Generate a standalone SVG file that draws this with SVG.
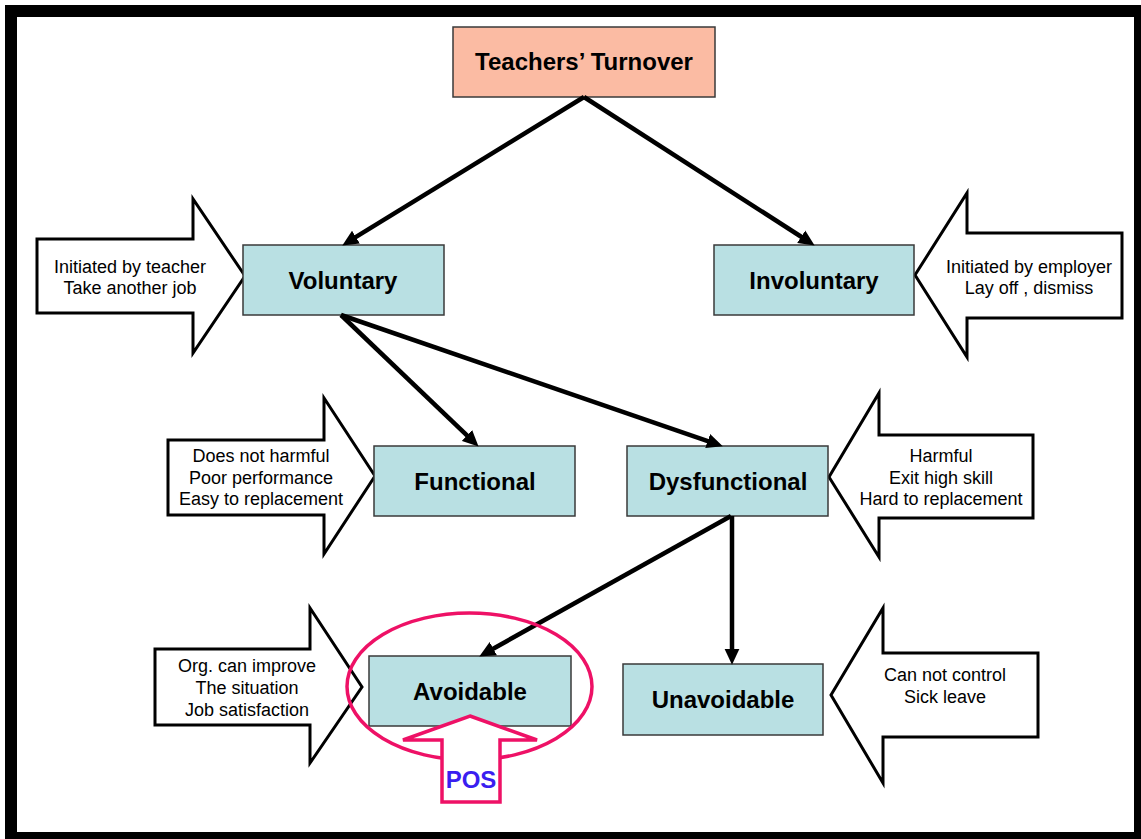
<svg xmlns="http://www.w3.org/2000/svg" width="1141" height="839" viewBox="0 0 1141 839">
<defs>
<marker id="ah" markerUnits="userSpaceOnUse" markerWidth="16" markerHeight="16" refX="3" refY="7" orient="auto" viewBox="0 0 15 14">
<path d="M0,0 L15,7 L0,14 z" fill="#000"/>
</marker>
</defs>
<style>
.box{fill:#B9E0E3;stroke:#3a3a3a;stroke-width:1.5}
.top{fill:#FBBBA3;stroke:#3a3a3a;stroke-width:1.5}
.lbl{font-family:"Liberation Sans",Arial,sans-serif;font-size:24px;font-weight:bold;fill:#000;text-anchor:middle}
.side{fill:#fff;stroke:#000;stroke-width:3;stroke-linejoin:miter}
.st{font-family:"Liberation Sans",Arial,sans-serif;font-size:18px;fill:#000;text-anchor:middle}
.con{stroke:#000;stroke-width:4.5;fill:none;marker-end:url(#ah)}
.pink{fill:none;stroke:#EE1166;stroke-width:3.5}
</style>
<rect x="0" y="0" width="1141" height="839" fill="#fff"/>
<rect x="11" y="11" width="1129" height="827" fill="none" stroke="#000" stroke-width="12"/>

<g id="side-voluntary">
<polygon class="side" points="37,239 193,239 193,199 245,276 193,353 193,313 37,313"/>
<text class="st" x="130" y="273">Initiated by teacher</text>
<text class="st" x="130" y="294">Take another job</text>
</g>
<g id="side-involuntary">
<polygon class="side" points="1122,233 967,233 967,193 915,275 967,357 967,318 1122,318"/>
<text class="st" x="1029" y="273">Initiated by employer</text>
<text class="st" x="1029" y="294">Lay off , dismiss</text>
</g>
<g id="side-functional">
<polygon class="side" points="168,440 324,440 324,398 375,476 324,554 324,515 168,515"/>
<text class="st" x="261" y="462">Does not harmful</text>
<text class="st" x="261" y="484">Poor performance</text>
<text class="st" x="261" y="505">Easy to replacement</text>
</g>
<g id="side-dysfunctional">
<polygon class="side" points="1033,435 879,435 879,393 829,477 879,557 879,518 1033,518"/>
<text class="st" x="941" y="462">Harmful</text>
<text class="st" x="941" y="484">Exit high skill</text>
<text class="st" x="941" y="505">Hard to replacement</text>
</g>
<g id="side-avoidable">
<polygon class="side" points="155,649 310,649 310,608 362,687 310,763 310,725 155,725"/>
<text class="st" x="247" y="672">Org. can improve</text>
<text class="st" x="247" y="694">The situation</text>
<text class="st" x="247" y="716">Job satisfaction</text>
</g>
<g id="side-unavoidable">
<polygon class="side" points="1038,653 883,653 883,608 831,695 883,783 883,737 1038,737"/>
<text class="st" x="945" y="681">Can not control</text>
<text class="st" x="945" y="703">Sick leave</text>
</g>

<g id="turnover">
<rect class="top" x="453" y="27" width="262" height="70"/>
<text class="lbl" x="584" y="70">Teachers’ Turnover</text>
</g>
<g id="voluntary">
<rect class="box" x="243" y="245" width="201" height="70"/>
<text class="lbl" x="343" y="289">Voluntary</text>
</g>
<g id="involuntary">
<rect class="box" x="714" y="245" width="200" height="70"/>
<text class="lbl" x="814" y="289">Involuntary</text>
</g>
<g id="functional">
<rect class="box" x="374" y="446" width="201" height="70"/>
<text class="lbl" x="475" y="490">Functional</text>
</g>
<g id="dysfunctional">
<rect class="box" x="627" y="446" width="201" height="70"/>
<text class="lbl" x="728" y="490">Dysfunctional</text>
</g>
<g id="avoidable">
<rect class="box" x="369" y="656" width="202" height="70"/>
<text class="lbl" x="470" y="700">Avoidable</text>
</g>
<g id="unavoidable">
<rect class="box" x="623" y="664" width="200" height="71"/>
<text class="lbl" x="723" y="708">Unavoidable</text>
</g>

<g id="connectors">
<line class="con" x1="584" y1="97" x2="353.2" y2="238.7"/>
<line class="con" x1="584" y1="97" x2="803.9" y2="238.5"/>
<line class="con" x1="341" y1="315" x2="469.3" y2="437.7"/>
<line class="con" x1="341" y1="315" x2="710.7" y2="442.1"/>
<line class="con" x1="731" y1="516" x2="490.5" y2="650.2"/>
<line class="con" x1="732" y1="516" x2="732" y2="652"/>
</g>

<g id="pos-highlight">
<ellipse class="pink" cx="469.5" cy="686.5" rx="122.5" ry="73.5"/>
<polygon points="470,716 537,740 500,740 500,802 442,802 442,740 403,740" fill="#fff" stroke="#EE1166" stroke-width="3.5"/>
<text x="471" y="788" font-family="Liberation Sans, Arial, sans-serif" font-size="24" font-weight="bold" fill="#3A1EF0" text-anchor="middle">POS</text>
</g>
</svg>
